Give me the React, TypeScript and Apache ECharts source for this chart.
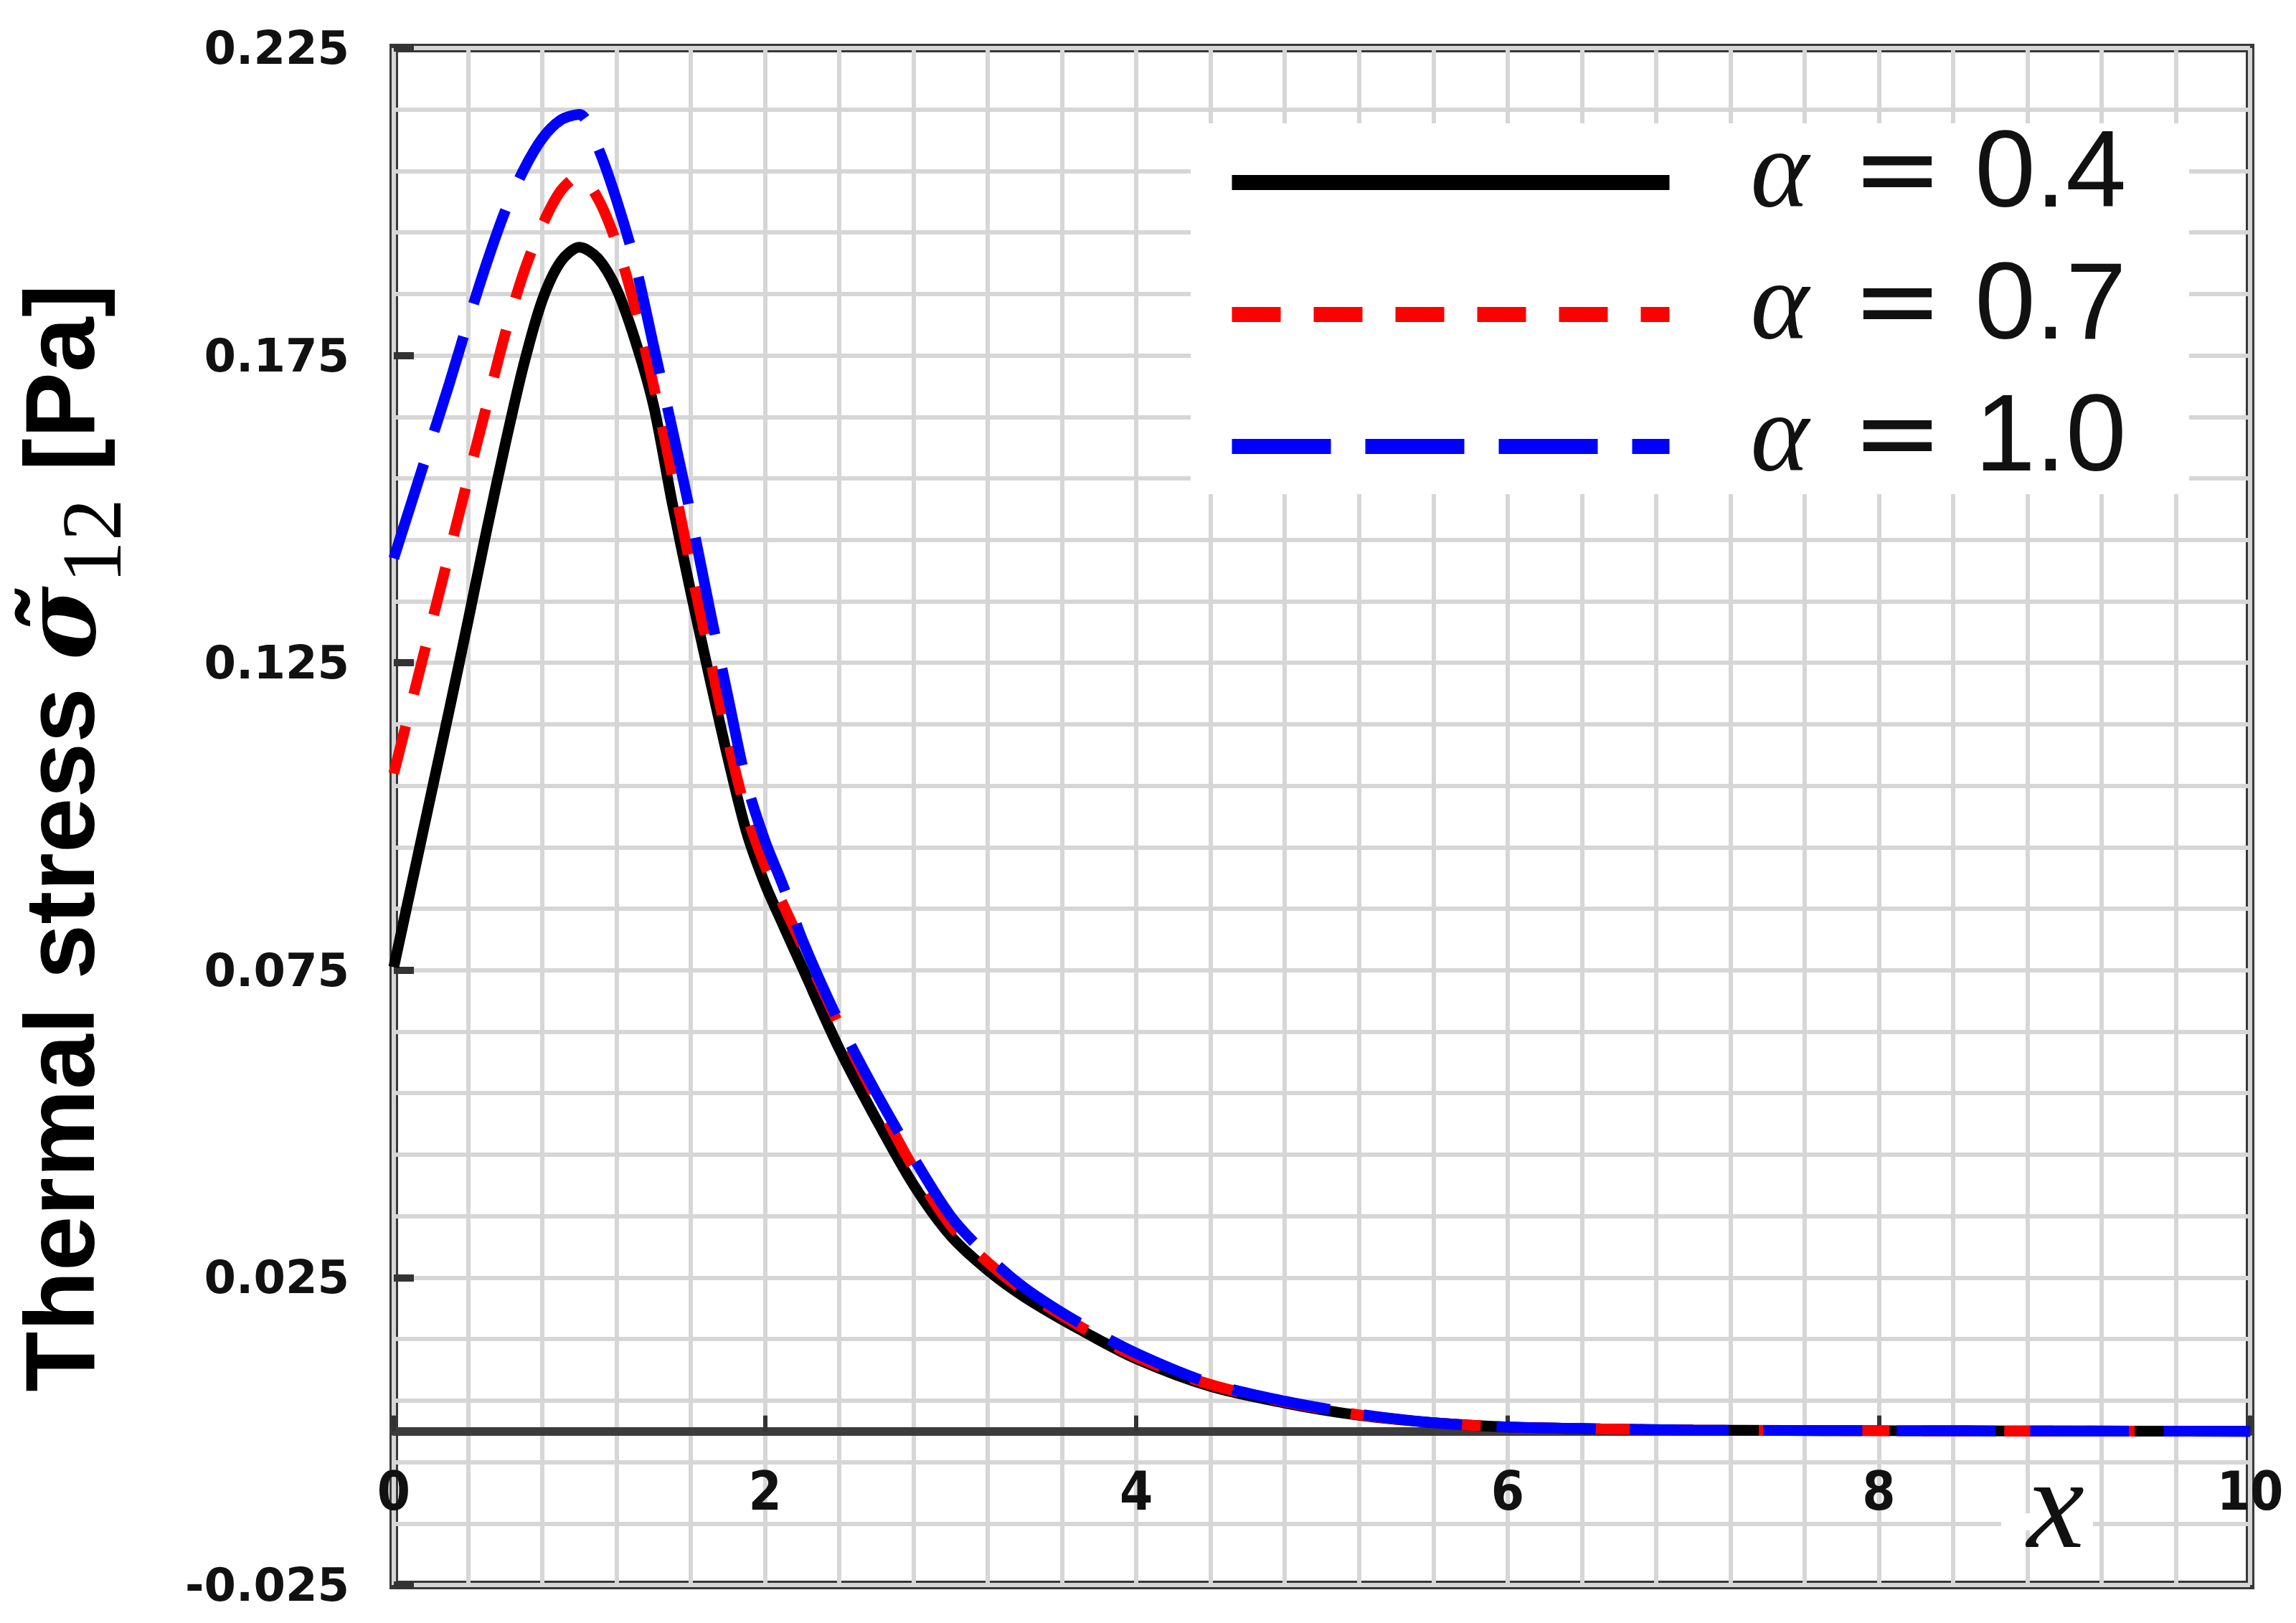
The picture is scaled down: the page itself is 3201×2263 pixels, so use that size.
import React, { useEffect, useRef } from 'react';
import * as echarts from 'echarts';

// ---------- data ----------
const xValues = [
  0, 0.1, 0.2, 0.3, 0.4, 0.5, 0.6, 0.7, 0.8, 0.9, 1.0, 1.1, 1.2, 1.3, 1.4, 1.5, 1.6, 1.7, 1.8, 1.9,
  2.0, 2.1, 2.2, 2.4, 2.6, 2.8, 3.0, 3.2, 3.4, 3.7, 4.0, 4.4, 4.8, 5.2, 5.6, 6.0, 6.5, 7.0, 8.0, 9.0, 10.0,
];

const alpha04 = [
  0.0755, 0.0895, 0.1035, 0.1175, 0.1318, 0.1465, 0.1605, 0.1735, 0.184, 0.1903, 0.1926, 0.1908, 0.1858,
  0.1775, 0.1668, 0.151, 0.1365, 0.1228, 0.1095, 0.0975, 0.089, 0.0822, 0.0755, 0.0622, 0.0507, 0.0401,
  0.0318, 0.0262, 0.0218, 0.0165, 0.0118, 0.0073, 0.0046, 0.0026, 0.0014, 0.0007, 0.0004, 0.0002, 0.0001,
  0.00005, 0,
];

const alpha07 = [
  0.107, 0.119, 0.131, 0.143, 0.155, 0.1668, 0.1785, 0.1885, 0.1962, 0.2018, 0.2042, 0.2005, 0.1932, 0.1828,
  0.17, 0.1555, 0.1405, 0.1262, 0.1125, 0.1005, 0.092, 0.0855, 0.079, 0.066, 0.054, 0.0428, 0.0335, 0.0275,
  0.0227, 0.017, 0.0121, 0.0076, 0.0048, 0.0027, 0.0014, 0.0007, 0.0004, 0.0002, 0.0001, 0.00005, 0,
];

const alpha10 = [
  0.142, 0.1515, 0.161, 0.1705, 0.1805, 0.19, 0.1985, 0.2052, 0.2103, 0.2133, 0.2142, 0.2088, 0.2003, 0.19,
  0.1765, 0.163, 0.149, 0.134, 0.1195, 0.1055, 0.096, 0.0885, 0.08, 0.0665, 0.055, 0.0445, 0.035, 0.0285,
  0.0233, 0.0175, 0.0127, 0.0078, 0.0049, 0.0028, 0.0014, 0.0007, 0.0004, 0.0002, 0.0001, 0.00005, 0,
];

const seriesNames = ['α = 0.4', 'α = 0.7', 'α = 1.0'];
const seriesValues = [alpha04, alpha07, alpha10];
const seriesColors = ['#000000', '#ff0000', '#0000ff'];
const seriesDash: (string | number[])[] = ['solid', [68, 46], [138, 48]];

const yMin = -0.025;
const yMax = 0.225;
const yStep = 0.05;
const xMin = 0;
const xMax = 10;
const xStep = 2;

const W = 3201;
const H = 2263;

// layout of the plotting frame (pixels)
const GRID_LEFT = 549;
const GRID_RIGHT = 64;
const GRID_TOP = 67;
const GRID_BOTTOM = 53;

export default function App() {
  const ref = useRef<HTMLDivElement>(null);

  useEffect(() => {
    if (!ref.current) return;
    const chart = echarts.init(ref.current, undefined, { renderer: 'svg', width: W, height: H });

    const plotH = H - GRID_TOP - GRID_BOTTOM;
    // shift the x axis from the bottom edge up to the y = 0 level
    const zeroOffset = -((0 - yMin) / (yMax - yMin)) * plotH;

    const series = seriesNames.map((name, i) => ({
      name,
      type: 'line',
      data: xValues.map((x, j) => [x, seriesValues[i][j]]),
      symbol: 'none',
      showSymbol: false,
      smooth: 0.3,
      color: seriesColors[i],
      lineStyle: { color: seriesColors[i], width: 15, type: seriesDash[i] },
      z: 2 + i,
    }));

    const gridColor = '#d6d6d6';

    chart.setOption({
      animation: false,
      backgroundColor: '#ffffff',
      grid: {
        left: GRID_LEFT,
        right: GRID_RIGHT,
        top: GRID_TOP,
        bottom: GRID_BOTTOM,
        show: true,
        borderColor: '#383838',
        borderWidth: 12,
        backgroundColor: '#ffffff',
        containLabel: false,
        outerBoundsMode: 'none',
      },
      legend: {
        orient: 'vertical',
        left: 1707,
        top: 157,
        padding: 0,
        itemWidth: 610,
        itemHeight: 24,
        itemGap: -11,
        selectedMode: false,
        data: seriesNames,
        lineStyle: { width: 21 },
        itemStyle: { opacity: 0, color: 'transparent', borderWidth: 0 },
        formatter: (name: string) => {
          const val = name.split('=')[1].trim();
          return `{a|α}{e|=}{t|${val}}`;
        },
        textStyle: {
          rich: {
            a: {
              fontFamily: 'Liberation Serif',
              fontStyle: 'italic',
              fontSize: 155,
              lineHeight: 134,
              color: '#111',
              padding: [0, 0, 40, 108],
            },
            e: {
              fontFamily: 'DejaVu Sans',
              fontSize: 152,
              lineHeight: 134,
              color: '#111',
              padding: [0, 44, 40, 60],
            },
            t: {
              fontFamily: 'Liberation Sans',
              fontSize: 152,
              lineHeight: 134,
              color: '#111',
              padding: [0, 0, 40, 0],
            },
          },
        },
        z: 6,
      },
      xAxis: {
        type: 'value',
        min: xMin,
        max: xMax,
        interval: xStep,
        offset: zeroOffset,
        axisLine: { show: true, onZero: false, lineStyle: { color: '#3c3c3c', width: 12 } },
        axisTick: { show: true, inside: true, length: 22, lineStyle: { color: '#333', width: 6 } },
        minorTick: { show: false, splitNumber: 5 },
        splitLine: { show: true, lineStyle: { color: gridColor, width: 6 } },
        minorSplitLine: { show: true, lineStyle: { color: gridColor, width: 6 } },
        axisLabel: {
          show: true,
          margin: 46,
          fontFamily: "'Liberation Sans Narrow', 'DejaVu Sans Condensed', sans-serif",
          fontWeight: 'bold',
          fontSize: 74,
          color: '#111',
        },
      },
      yAxis: {
        type: 'value',
        min: yMin,
        max: yMax,
        interval: yStep,
        name: '{m|Thermal stress }{s|σ\u0303}{sub|12}{e| [Pa]}',
        nameLocation: 'middle',
        nameRotate: 90,
        nameGap: 466,
        nameTextStyle: {
          align: 'center',
          verticalAlign: 'middle',
          rich: {
            m: {
              fontFamily: 'Liberation Sans',
              fontWeight: 'bold',
              fontSize: 138,
              lineHeight: 170,
              color: '#000',
            },
            s: {
              fontFamily: 'DejaVu Serif',
              fontStyle: 'italic',
              fontWeight: 'bold',
              fontSize: 140,
              lineHeight: 170,
              color: '#000',
            },
            sub: {
              fontFamily: 'Liberation Serif',
              fontSize: 118,
              lineHeight: 170,
              color: '#000',
              padding: [90, 0, 0, 4],
            },
            e: {
              fontFamily: 'Liberation Sans',
              fontWeight: 'bold',
              fontSize: 138,
              lineHeight: 170,
              color: '#000',
              padding: [0, 60, 0, 0],
            },
          },
        },
        axisLine: { show: false, onZero: false },
        axisTick: { show: true, inside: true, length: 28, lineStyle: { color: '#333', width: 10 } },
        minorTick: { show: false, splitNumber: 5 },
        splitLine: { show: true, lineStyle: { color: gridColor, width: 6 } },
        minorSplitLine: { show: true, lineStyle: { color: gridColor, width: 6 } },
        axisLabel: {
          show: true,
          margin: 62,
          fontFamily: 'DejaVu Sans',
          fontWeight: 'bold',
          fontSize: 64,
          color: '#111',
          formatter: (v: number) => v.toFixed(3),
        },
      },
      graphic: [
        {
          // white panel behind the legend
          type: 'rect',
          z: 5,
          shape: { x: 1660, y: 172, width: 1392, height: 517 },
          style: { fill: '#ffffff' },
        },
        {
          type: 'rect',
          z: 5,
          shape: { x: 2790, y: 2110, width: 128, height: 24 },
          style: { fill: '#ffffff' },
        },
        {
          type: 'text',
          z: 6,
          x: 2866,
          y: 2096,
          style: {
            text: 'x',
            fontFamily: 'Liberation Serif',
            fontStyle: 'italic',
            fontSize: 180,
            fill: '#111',
            align: 'center',
            verticalAlign: 'middle',
          },
        },
      ],
      series,
    });

    return () => {
      chart.dispose();
    };
  }, []);

  return (
    <div
      ref={ref}
      style={{ position: 'absolute', left: 0, top: 0, width: W, height: H, background: '#fff' }}
    />
  );
}
